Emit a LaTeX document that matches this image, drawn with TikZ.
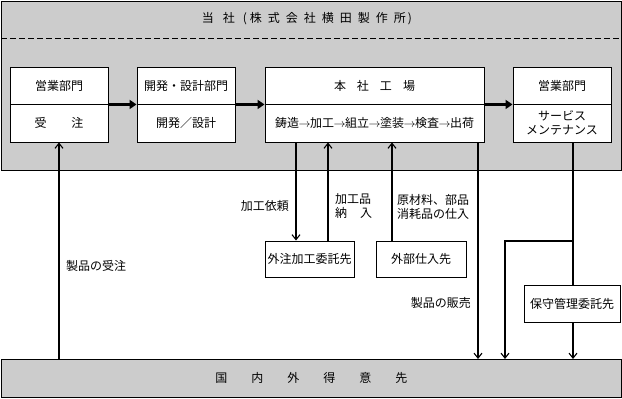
\documentclass[tikz,border=0pt]{standalone}
\usepackage{fontspec}
\setmainfont{Noto Sans CJK JP}
\usetikzlibrary{arrows.meta}
\definecolor{bg}{RGB}{204,204,204}
\newcommand{\procarrow}{\kern-0.5pt$\rightarrow$\kern-0.5pt}
\begin{document}
\begin{tikzpicture}[x=1pt,y=-1pt,
  every node/.style={font=\fontsize{12pt}{14pt}\selectfont},
  region/.style={draw,fill=bg,line width=0.8pt,inner sep=0,anchor=north west},
  box/.style={draw,fill=white,line width=0.9pt,inner sep=0,align=center},
  flow/.style={line width=3.5pt,-{Triangle[length=7pt,width=9pt]}},
  arr/.style={line width=1.1pt,-{Straight Barb[length=5pt,width=8pt]}},
  plain/.style={line width=1.1pt},
  lbl/.style={align=left,inner sep=0}
]
\useasboundingbox (0,0) rectangle (622,399);
% regions
\node[region,minimum width=620pt,minimum height=169pt] (company) at (1,1) {};
\node (title) at (307,19) {当\kern9pt 社\kern8pt(\kern3pt 株\kern6pt 式\kern6pt 会\kern6pt 社\kern6pt 横\kern6pt 田\kern6pt 製\kern6pt 作\kern6pt 所\kern2pt)};
\coordinate (dl) at (1,38);
\coordinate (dr) at (621,38);
\draw[line width=0.8pt,dash pattern=on 6pt off 3pt] (dl) -- (dr);
\node[region,minimum width=620pt,minimum height=38pt] (dom) at (1,359) {国\kern24pt 内\kern24pt 外\kern24pt 得\kern24pt 意\kern24pt 先};
% top row boxes
\node[box,minimum width=98pt,minimum height=37pt] (b1t) at (59,85.5) {営業部門};
\node[box,minimum width=98pt,minimum height=38pt] (b1b) at (59,123) {受\kern25pt 注};
\node[box,minimum width=98pt,minimum height=37pt] (b2t) at (186,85.5) {開発・設計部門};
\node[box,minimum width=98pt,minimum height=38pt] (b2b) at (186,123) {開発／設計};
\node[box,minimum width=219pt,minimum height=37pt] (b3t) at (374.5,85.5) {本\kern11pt 社\kern11pt 工\kern11pt 場};
\node[box,minimum width=219pt,minimum height=38pt] (b3b) at (374.5,123) {鋳造\procarrow 加工\procarrow 組立\procarrow 塗装\procarrow 検査\procarrow 出荷};
\node[box,minimum width=98pt,minimum height=37pt] (b4t) at (562,85.5) {営業部門};
\node[box,minimum width=98pt,minimum height=38pt] (b4b) at (562,123) {サービス\\メンテナンス};
% lower boxes
\node[box,minimum width=89pt,minimum height=36pt] (sub) at (309.5,259) {外注加工委託先};
\node[box,minimum width=90pt,minimum height=36pt] (sup) at (421,259) {外部仕入先};
\node[box,minimum width=96pt,minimum height=37pt] (maint) at (572,303.5) {保守管理委託先};
% thick flow arrows
\draw[flow] (b1t.south east) -- (b2t.south west);
\draw[flow] (b2t.south east) -- (b3t.south west);
\draw[flow] (b3t.south east) -- (b4t.south west);
% connector x positions
\coordinate (xa) at (296,0);
\coordinate (xb) at (328,0);
\coordinate (xc) at (392,0);
\coordinate (xd) at (478,0);
\coordinate (xe) at (573,0);
\coordinate (xf) at (505,0);
\coordinate (br) at (573,241);
% connectors
\draw[arr] (dom.north -| b1b.south) -- (b1b.south);
\draw[arr] (b3b.south -| xa) -- (sub.north -| xa);
\draw[arr] (sub.north -| xb) -- (b3b.south -| xb);
\draw[arr] (sup.north -| xc) -- (b3b.south -| xc);
\draw[arr] (b3b.south -| xd) -- (dom.north -| xd);
\draw[plain] (b4b.south -| xe) -- (maint.north -| xe);
\draw[arr] (maint.south -| xe) -- (dom.north -| xe);
\draw[arr] (br) -| (dom.north -| xf);
% labels
\node[lbl,anchor=west] (l1) at (66,266) {製品の受注};
\node[lbl,anchor=east] (l2) at (289,206) {加工依頼};
\node[lbl,anchor=west] (l3) at (335,206.5) {加工品\\納\kern13pt 入};
\node[lbl,anchor=west] (l4) at (397,206.5) {原材料、部品\\消耗品の仕入};
\node[lbl,anchor=east] (l5) at (471,303) {製品の販売};
\end{tikzpicture}
\end{document}
